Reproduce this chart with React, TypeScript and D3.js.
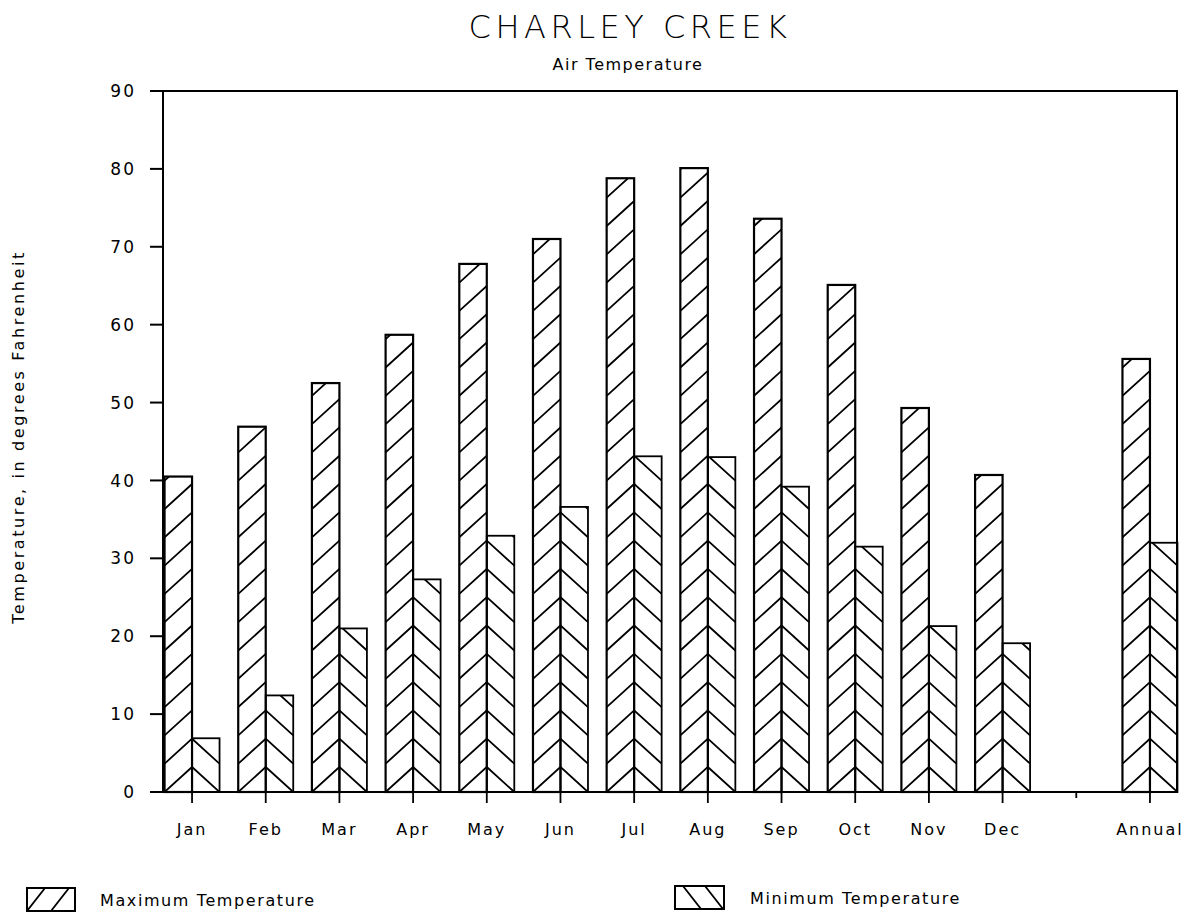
import React from "react";
import * as d3 from "d3";

// categories along the x axis (one empty slot before Annual)
const categories = ["Jan", "Feb", "Mar", "Apr", "May", "Jun", "Jul", "Aug", "Sep", "Oct", "Nov", "Dec", "gap", "Annual"];
const maxTemp = [40.5, 46.9, 52.5, 58.7, 67.8, 71.0, 78.8, 80.1, 73.6, 65.1, 49.3, 40.7, null, 55.6];
const minTemp = [6.9, 12.4, 21.0, 27.3, 32.9, 36.6, 43.1, 43.0, 39.2, 31.5, 21.3, 19.1, null, 32.0];
const yTicks = [0, 10, 20, 30, 40, 50, 60, 70, 80, 90];

const W = 1194;
const H = 915;
const frame = { left: 163, right: 1177, top: 91, bottom: 792 };
const barW = 27.5;
const hatchRise = 25; // vertical rise of one hatch stroke across a bar
const hatchStep = 28.3; // vertical distance between strokes
const font = "'DejaVu Sans', Verdana, sans-serif";

const y = d3.scaleLinear().domain([0, 90]).range([frame.bottom, frame.top]);
const x = d3.scaleBand().domain(categories).range([155.2, 1186.8]).padding(0);
const cx = (c: string) => (x(c) as number) + x.bandwidth() / 2;

// hatch strokes for one bar, anchored on the shared centre edge
function hatch(edge: number, top: number, dir: "max" | "min") {
  const y0 = y(0);
  const n = Math.ceil((y0 - top + hatchRise) / hatchStep) + 1;
  const out: string[] = [];
  for (let j = -1; j <= n; j++) {
    const yb = y0 - j * hatchStep;
    if (dir === "max") out.push(`M${edge - barW},${yb}L${edge},${yb - hatchRise}`);
    else out.push(`M${edge},${yb - hatchRise}L${edge + barW},${yb}`);
  }
  return out.join("");
}

const App = () => {
  const y0 = y(0);
  return (
    <svg width={W} height={H} style={{ position: "absolute", left: 0, top: 0, background: "#fff" }}>
      <defs>
        {categories.map((c, i) => {
          if (maxTemp[i] == null) return null;
          const m = cx(c);
          return (
            <React.Fragment key={c}>
              <clipPath id={`cmax${i}`}>
                <rect x={m - barW} y={y(maxTemp[i] as number)} width={barW} height={y0 - y(maxTemp[i] as number)} />
              </clipPath>
              <clipPath id={`cmin${i}`}>
                <rect x={m} y={y(minTemp[i] as number)} width={barW} height={y0 - y(minTemp[i] as number)} />
              </clipPath>
            </React.Fragment>
          );
        })}
        <clipPath id="legMax">
          <rect x={27} y={888} width={48} height={23} />
        </clipPath>
        <clipPath id="legMin">
          <rect x={675} y={886} width={49} height={23} />
        </clipPath>
      </defs>

      <text x={630} y={38} textAnchor="middle" fontFamily={font} fontWeight={200} fontSize={32} letterSpacing={4.5}>
        CHARLEY CREEK
      </text>
      <text x={628} y={70} textAnchor="middle" fontFamily={font} fontSize={16} letterSpacing={1.5}>
        Air Temperature
      </text>

      {/* bars */}
      {categories.map((c, i) => {
        if (maxTemp[i] == null) return null;
        const m = cx(c);
        const ty = y(maxTemp[i] as number);
        const tn = y(minTemp[i] as number);
        return (
          <g key={c} fill="none" stroke="#000">
            <path d={hatch(m, ty, "max")} strokeWidth={1.8} clipPath={`url(#cmax${i})`} />
            <path d={hatch(m, tn, "min")} strokeWidth={1.8} clipPath={`url(#cmin${i})`} />
            <rect x={m - barW} y={ty} width={barW} height={y0 - ty} strokeWidth={2.2} />
            <rect x={m} y={tn} width={barW} height={y0 - tn} strokeWidth={1.8} />
          </g>
        );
      })}

      {/* frame */}
      <rect x={frame.left} y={frame.top} width={frame.right - frame.left} height={frame.bottom - frame.top} fill="none" stroke="#000" strokeWidth={2} />
      {yTicks.map((t) => (
        <g key={t}>
          <line x1={150} x2={frame.left} y1={y(t)} y2={y(t)} stroke="#000" strokeWidth={2} />
          <text x={136} y={y(t)} dy="0.36em" textAnchor="end" fontFamily={font} fontSize={17} letterSpacing={2}>
            {t}
          </text>
        </g>
      ))}
      {categories.map((c) => (
        <g key={c}>
          <line x1={cx(c)} x2={cx(c)} y1={frame.bottom} y2={c === "gap" ? frame.bottom + 6 : frame.bottom + 11} stroke="#000" strokeWidth={1.8} />
          {c !== "gap" && (
            <text x={cx(c)} y={835} textAnchor="middle" fontFamily={font} fontSize={16} letterSpacing={2}>
              {c}
            </text>
          )}
        </g>
      ))}

      <text
        transform={`translate(24,437) rotate(-90)`}
        textAnchor="middle"
        fontFamily={font}
        fontSize={16}
        letterSpacing={2.6}
      >
        Temperature, in degrees Fahrenheit
      </text>

      {/* legend */}
      <g fill="none" stroke="#000">
        <path d="M27,911L45,888M51,911L69,888" strokeWidth={1.8} clipPath="url(#legMax)" />
        <rect x={27} y={888} width={48} height={23} strokeWidth={2} />
        <path d="M683,886L701,909M705,886L723,909" strokeWidth={1.8} clipPath="url(#legMin)" />
        <rect x={675} y={886} width={49} height={23} strokeWidth={2} />
      </g>
      <text x={100} y={906} fontFamily={font} fontSize={16} letterSpacing={1.6}>
        Maximum Temperature
      </text>
      <text x={750} y={904} fontFamily={font} fontSize={16} letterSpacing={1.6}>
        Minimum Temperature
      </text>
    </svg>
  );
};

export default App;
